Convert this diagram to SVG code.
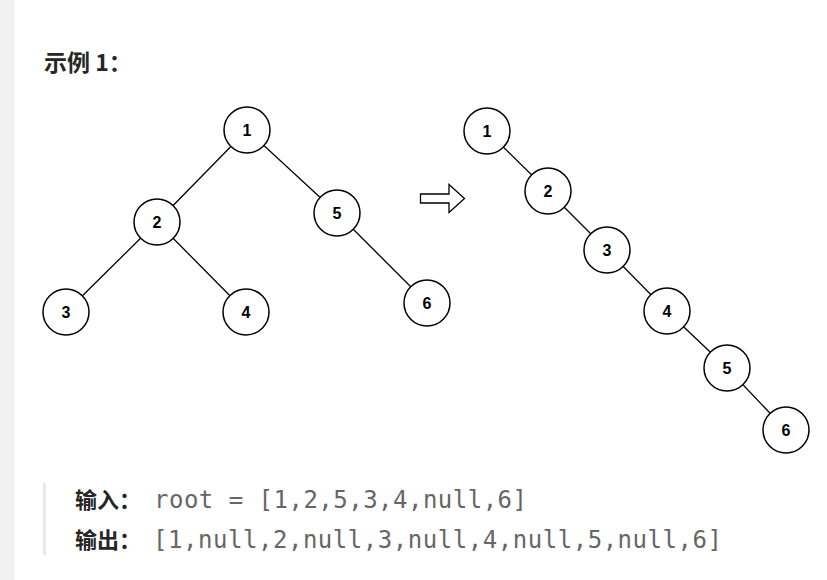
<svg xmlns="http://www.w3.org/2000/svg" width="827" height="580" viewBox="0 0 827 580">
<style>
.node circle{fill:#fff;stroke:#000;stroke-width:1.5}
.node text{font-family:"Liberation Sans",Arial,sans-serif;font-weight:bold;font-size:16px;text-anchor:middle;fill:#000}
.edges line{stroke:#000;stroke-width:1.3}
.cjk{font-family:"Noto Sans CJK SC","Noto Sans",sans-serif;font-weight:bold;font-size:22px;fill:#262626}
.mono{font-family:"DejaVu Sans Mono","Liberation Mono",monospace;font-size:24px;fill:#666}
</style>
<rect x="0" y="0" width="827" height="580" fill="#fff"/>
<rect x="0" y="0" width="14.5" height="580" fill="#f0f0f0"/>
<text class="cjk" x="44" y="71" style="font-size:23px">示例 1：</text>
<g class="edges">
<line x1="247" y1="130" x2="157" y2="222"/>
<line x1="247" y1="130" x2="337" y2="213"/>
<line x1="157" y1="222" x2="66" y2="312"/>
<line x1="157" y1="222" x2="246" y2="312"/>
<line x1="337" y1="213" x2="427" y2="303"/>
<line x1="487" y1="131" x2="548" y2="191"/>
<line x1="548" y1="191" x2="607" y2="250"/>
<line x1="607" y1="250" x2="667" y2="311"/>
<line x1="667" y1="311" x2="727" y2="368"/>
<line x1="727" y1="368" x2="786" y2="430"/>
</g>
<g id="L1" class="node"><circle cx="247" cy="130" r="23"/><text x="247" y="136">1</text></g>
<g id="L2" class="node"><circle cx="157" cy="222" r="23"/><text x="157" y="228">2</text></g>
<g id="L5" class="node"><circle cx="337" cy="213" r="23"/><text x="337" y="219">5</text></g>
<g id="L3" class="node"><circle cx="66" cy="312" r="23"/><text x="66" y="318">3</text></g>
<g id="L4" class="node"><circle cx="246" cy="312" r="23"/><text x="246" y="318">4</text></g>
<g id="L6" class="node"><circle cx="427" cy="303" r="23"/><text x="427" y="309">6</text></g>
<g id="arrow"><polygon points="420.5,194 449,194 449,184.5 464.5,198.5 449,212.5 449,203 420.5,203" fill="#fff" stroke="#000" stroke-width="1.3"/></g>
<g id="R1" class="node"><circle cx="487" cy="131" r="23"/><text x="487" y="137">1</text></g>
<g id="R2" class="node"><circle cx="548" cy="191" r="23"/><text x="548" y="197">2</text></g>
<g id="R3" class="node"><circle cx="607" cy="250" r="23"/><text x="607" y="256">3</text></g>
<g id="R4" class="node"><circle cx="667" cy="311" r="23"/><text x="667" y="317">4</text></g>
<g id="R5" class="node"><circle cx="727" cy="368" r="23"/><text x="727" y="374">5</text></g>
<g id="R6" class="node"><circle cx="786" cy="430" r="23"/><text x="786" y="436">6</text></g>
<rect x="43" y="483" width="3" height="72" fill="#e8e8e8"/>
<text class="cjk" x="75" y="508">输入：</text>
<text class="mono" x="154" y="508" textLength="373" lengthAdjust="spacing">root = [1,2,5,3,4,null,6]</text>
<text class="cjk" x="75" y="548">输出：</text>
<text class="mono" x="153" y="548" textLength="569" lengthAdjust="spacing">[1,null,2,null,3,null,4,null,5,null,6]</text>
</svg>
